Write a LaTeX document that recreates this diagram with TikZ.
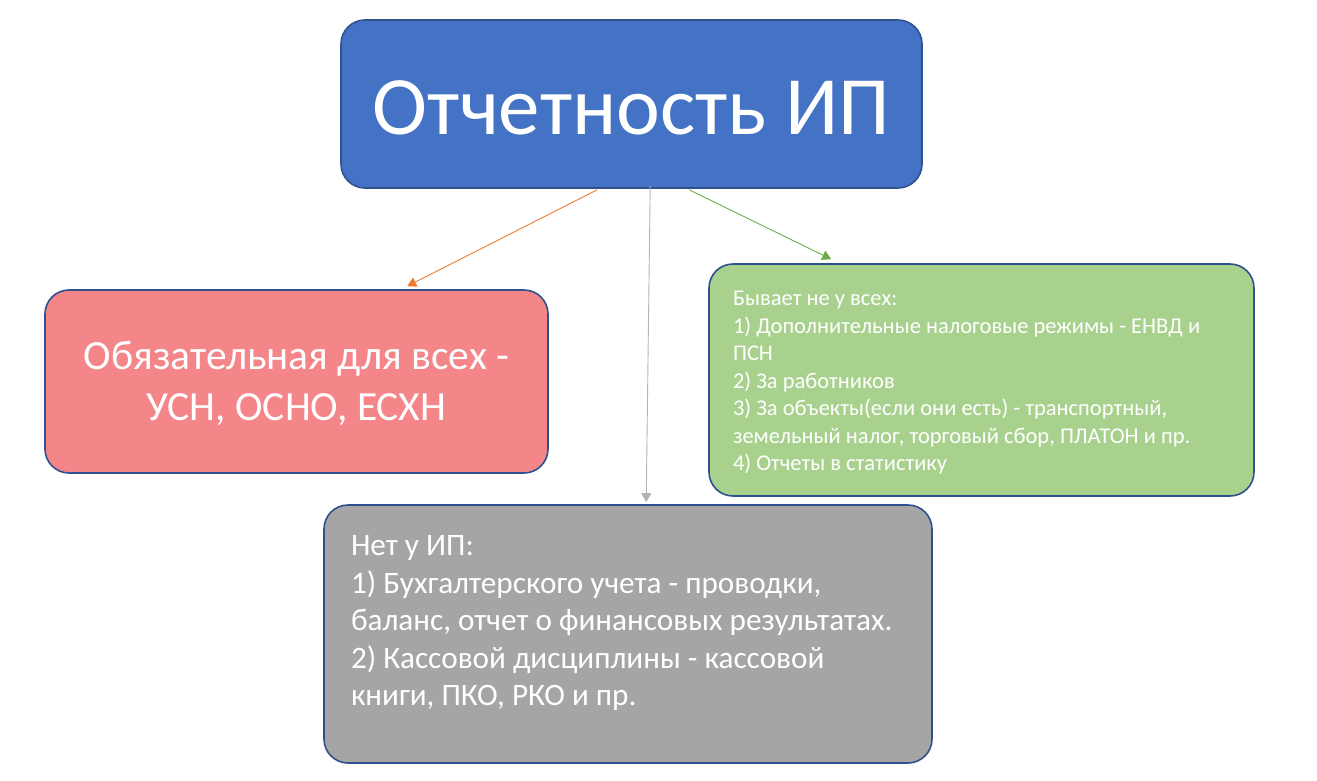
\documentclass[tikz,border=0pt]{standalone}
\usepackage{fontspec}
\setmainfont{Carlito}
\usetikzlibrary{arrows.meta,calc}
\definecolor{topblue}{HTML}{4472C4}
\definecolor{edgeblue}{HTML}{2F528F}
\definecolor{redfill}{HTML}{F4868A}
\definecolor{greenfill}{HTML}{A9D18E}
\definecolor{grayfill}{HTML}{A5A5A5}
\definecolor{orangeline}{HTML}{ED7D31}
\definecolor{greenline}{HTML}{70AD47}
\definecolor{grayline}{HTML}{B4B4B4}
\tikzset{
  box/.style={draw=edgeblue, line width=1.6pt, rounded corners=24pt, text=white, inner sep=0pt},
  conn/.style={line width=0.9pt, -{Triangle[length=9pt,width=10pt]}}
}
\begin{document}
\begin{tikzpicture}[x=1pt,y=-1pt]
\useasboundingbox (0,0) rectangle (1317,781);
\fill[white] (0,0) rectangle (1317,781);
\node[box, fill=topblue, minimum width=581pt, minimum height=168pt, font=\fontsize{83}{95}\selectfont] (top) at (631.5,104)
  {\raisebox{-3.5pt}[\height][\depth]{Отчетность ИП}};
\node[box, fill=redfill, minimum width=503pt, minimum height=183pt, font=\fontsize{41.5}{52}\selectfont] (req) at (296.5,381.5)
  {\raisebox{-3pt}[\height][\depth]{\begin{tabular}{@{}c@{}}Обязательная для всех -\\[-1.2pt] УСН, ОСНО, ЕСХН\end{tabular}}};
\node[box, fill=greenfill, minimum width=545pt, minimum height=232pt] (opt) at (981.5,380)
  {\begin{minipage}{497pt}\fontsize{22.5}{27.5}\selectfont
  \vspace{6pt}Бывает не у всех:\\
  1) Дополнительные налоговые режимы - ЕНВД и\\
  ПСН\\
  2) За работников\\
  3) За объекты(если они есть) - транспортный,\\
  земельный налог, торговый сбор, ПЛАТОН и пр.\\
  4) Отчеты в статистику
  \end{minipage}};
\node[box, fill=grayfill, minimum width=608pt, minimum height=258pt] (none) at (628,634)
  {\begin{minipage}{554pt}\fontsize{31.2}{37.5}\selectfont
  Нет у ИП:\\
  1) Бухгалтерского учета - проводки,\\
  баланс, отчет о финансовых результатах.\\
  2) Кассовой дисциплины - кассовой\\
  книги, ПКО, РКО и пр.
  \vspace{22pt}\end{minipage}};
\coordinate (s1) at ($(top.south west)+(257,1)$);
\coordinate (e1) at ($(req.north west)+(363,-3)$);
\coordinate (s2) at ($(top.south west)+(310,-3)$);
\coordinate (e2) at ($(none.north west)+(323,-2)$);
\coordinate (s3) at ($(top.south west)+(349,1)$);
\coordinate (e3) at ($(opt.north west)+(123,-4)$);
\draw[conn, orangeline] (s1) -- (e1);
\draw[conn, grayline] (s2) -- (e2);
\draw[conn, greenline] (s3) -- (e3);
\end{tikzpicture}
\end{document}
